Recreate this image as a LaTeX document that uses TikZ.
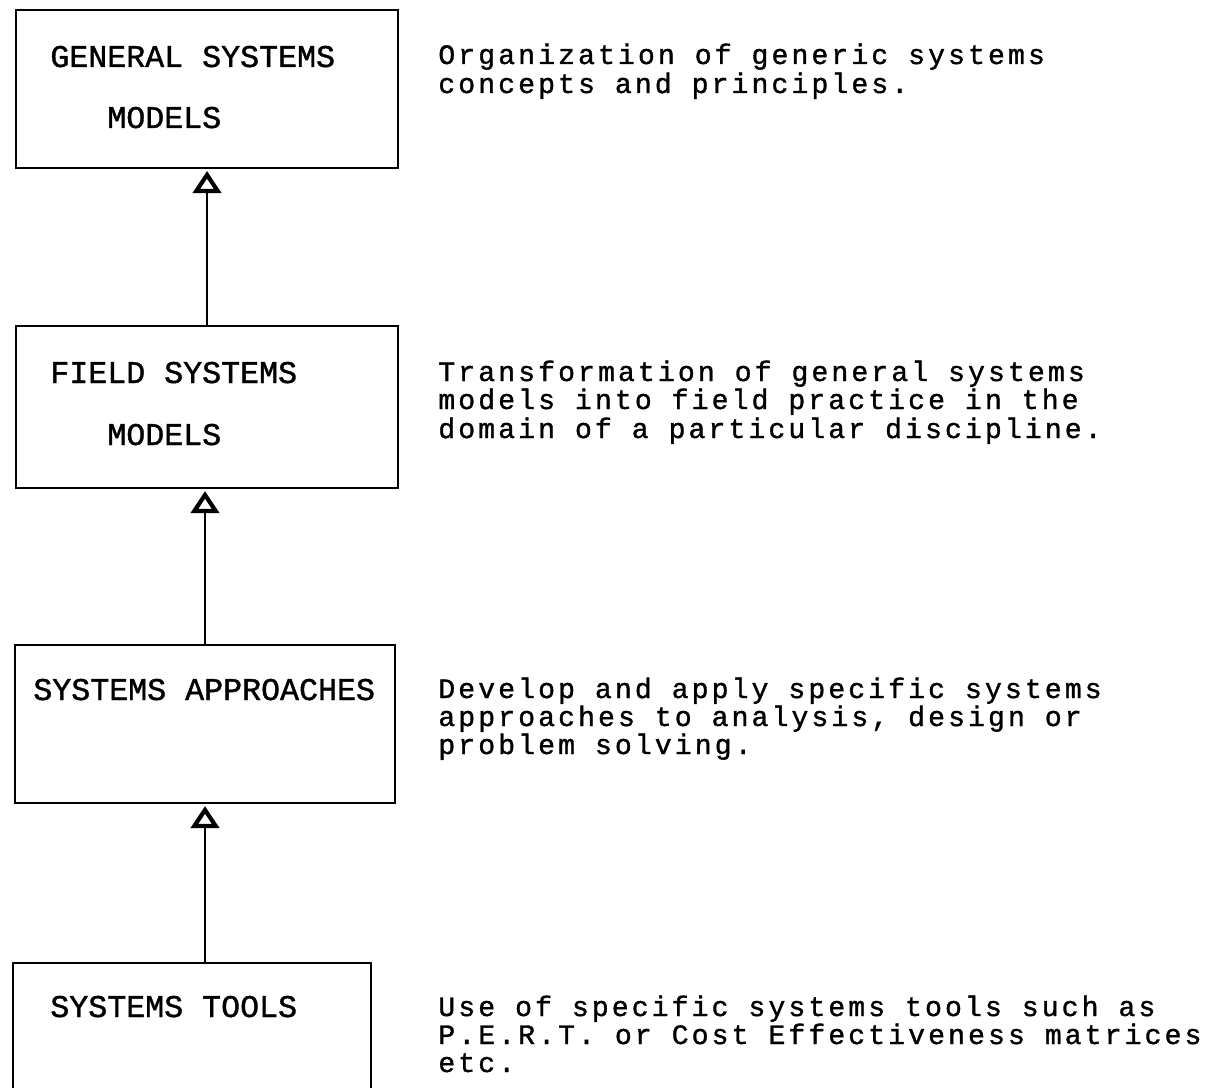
\documentclass[tikz,border=0pt]{standalone}
\usepackage{fontspec}
\usetikzlibrary{arrows.meta}
\newfontfamily\boxfont[FakeBold=1.2]{Liberation Mono}
\newfontfamily\notefont[LetterSpace=11,FakeBold=1.2]{Liberation Mono}
\tikzset{
  stage/.style={rectangle,draw,line width=1.1pt,inner sep=0pt,outer sep=0pt},
  stagetext/.style={anchor=base west,inner sep=0pt,font=\boxfont\fontsize{18pt}{20pt}\selectfont},
  note/.style={anchor=base west,inner sep=0pt,font=\notefont\fontsize{16pt}{16pt}\selectfont},
  up/.style={line width=1.1pt,-{Triangle[open,length=4.4mm,width=5.6mm,line width=2.4pt]},shorten >=0.6mm}
}
\begin{document}
\begin{tikzpicture}[x=0.2mm,y=-0.2mm]
\clip (0,0) rectangle (1213,1087);
\fill[white] (0,0) rectangle (1213,1087);

% boxes
\node[stage,minimum width=76.4mm,minimum height=31.6mm] (gsm) at (207,89) {};
 \node[stagetext] (gsm_t1) at (50,67) {GENERAL SYSTEMS};
 \node[stagetext] (gsm_t2) at (107,128) {MODELS};

\node[stage,minimum width=76.4mm,minimum height=32.4mm] (fsm) at (207,407) {};
 \node[stagetext] (fsm_t1) at (50,383) {FIELD SYSTEMS};
 \node[stagetext] (fsm_t2) at (107,445) {MODELS};

\node[stage,minimum width=76mm,minimum height=31.6mm] (sap) at (205,724) {};
 \node[stagetext] (sap_t1) at (33,700) {SYSTEMS APPROACHES};

\node[stage,minimum width=71.6mm,minimum height=29.4mm] (stl) at (192,1036.5) {};
 \node[stagetext] (stl_t1) at (50,1017) {SYSTEMS TOOLS};

% arrows
\draw[up] (fsm.north) -- (gsm.south);
\draw[up] (sap.north) -- (sap.north |- fsm.south);
\draw[up] (sap.south |- stl.north) -- (sap.south);

% notes
\node[note] (gsm_n1) at (438,64) {Organization of generic systems};
\node[note] (gsm_n2) at (438,93) {concepts and principles.};

\node[note] (fsm_n1) at (438,381) {Transformation of general systems};
\node[note] (fsm_n2) at (438,409) {models into field practice in the};
\node[note] (fsm_n3) at (438,438) {domain of a particular discipline.};

\node[note] (sap_n1) at (438,698) {Develop and apply specific systems};
\node[note] (sap_n2) at (438,726) {approaches to analysis, design or};
\node[note] (sap_n3) at (438,754) {problem solving.};

\node[note] (stl_n1) at (438,1016) {Use of specific systems tools such as};
\node[note] (stl_n2) at (438,1044) {P.E.R.T. or Cost Effectiveness matrices};
\node[note] (stl_n3) at (438,1072) {etc.};

\end{tikzpicture}
\end{document}
